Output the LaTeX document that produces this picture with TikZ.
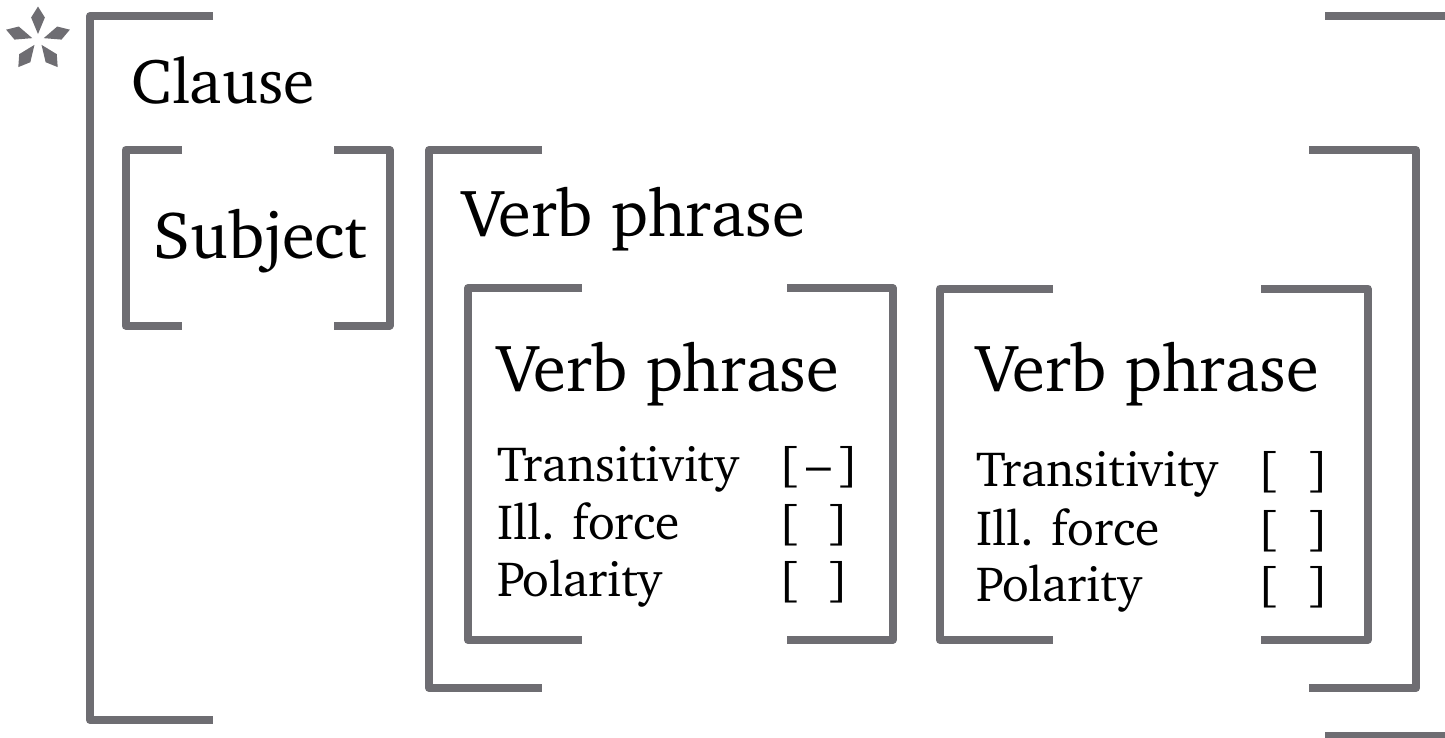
\documentclass[tikz,border=0pt]{standalone}
\usepackage[T1]{fontenc}
\usepackage{charter}
\definecolor{brkgray}{RGB}{110,109,114}
\tikzset{
  bracket/.style={draw=brkgray, line width=8pt, line join=round, line cap=butt},
  bigtxt/.style={font=\fontsize{66.8}{72}\selectfont, anchor=base west, inner sep=0pt},
  smalltxt/.style={font=\fontsize{49.5}{54}\selectfont, anchor=base west, inner sep=0pt},
}
\begin{document}
\begin{tikzpicture}[x=1pt,y=-1pt]
\useasboundingbox (0,0) rectangle (1445,737);
\clip (0,0) rectangle (1445,737);
% asterisk
\begin{scope}[shift={(38,40)}]
\foreach \a in {270,342,54,126,198}
  \fill[brkgray] (\a:6) -- (\a+17:23.5) -- (\a:33.5) -- (\a-17:23.5) -- cycle;
\end{scope}
% Clause brackets
\draw[bracket] (213,16) -- (90,16) -- (90,720) -- (213,720);
\draw[bracket] (1325,16) -- (1449,16) -- (1449,736) -- (1325,736);
% Subject brackets
\draw[bracket] (182,150) -- (125.5,150) -- (125.5,325.5) -- (182,325.5);
\draw[bracket] (334,150) -- (389.5,150) -- (389.5,325.5) -- (334,325.5);
% Verb phrase outer
\draw[bracket] (542,150) -- (429,150) -- (429,688) -- (542,688);
\draw[bracket] (1309,150) -- (1416,150) -- (1416,688) -- (1309,688);
% VP1
\draw[bracket] (582,288) -- (468,288) -- (468,640) -- (582,640);
\draw[bracket] (787,288) -- (892.5,288) -- (892.5,640) -- (787,640);
% VP2
\draw[bracket] (1053,288.5) -- (940,288.5) -- (940,640) -- (1053,640);
\draw[bracket] (1261,288.5) -- (1367.5,288.5) -- (1367.5,640) -- (1261,640);
% texts
\node[bigtxt, font=\fontsize{63.5}{70}\selectfont] (clause) at (131.7,103.3) {Clause};
\node[bigtxt] (subj) at (153,258) {Subject};
\node[bigtxt] (vp) at (462.7,236.7) {Verb phrase};
\node[bigtxt] (vpa) at (497.3,391.7) {Verb phrase};
\node[smalltxt] (ta) at (497.3,481.7) {Transitivity};
\node[smalltxt] (ia) at (497.3,539.3) {Ill. force};
\node[smalltxt] (pa) at (497.3,596) {Polarity};
\node[smalltxt] (tva) at (778,481.7) {\hbox to 81pt{[\hfil--\hfil]}};
\node[smalltxt] (iva) at (778,539.3) {\hbox to 71pt{[\hfil]}};
\node[smalltxt] (pva) at (778,596) {\hbox to 71pt{[\hfil]}};
\node[bigtxt] (vpb) at (976.7,391.7) {Verb phrase};
\node[smalltxt] (tb) at (976.7,486.7) {Transitivity};
\node[smalltxt] (ib) at (976.7,545) {Ill. force};
\node[smalltxt] (pb) at (976.7,601.7) {Polarity};
\node[smalltxt] (tvb) at (1257.7,486.7) {\hbox to 71pt{[\hfil]}};
\node[smalltxt] (ivb) at (1257.7,545) {\hbox to 71pt{[\hfil]}};
\node[smalltxt] (pvb) at (1257.7,601.7) {\hbox to 71pt{[\hfil]}};
\end{tikzpicture}
\end{document}
